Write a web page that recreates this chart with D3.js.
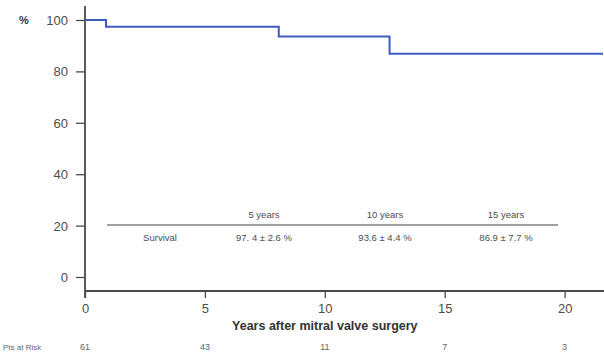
<!DOCTYPE html>
<html>
<head>
<meta charset="utf-8">
<script src="https://cdn.jsdelivr.net/npm/d3@7"></script>
<style>
  body { margin: 0; background: #fff; }
  text { font-family: "Liberation Sans", Arial, sans-serif; }
</style>
</head>
<body>
<div id="chart"></div>
<script>
// Kaplan-Meier survival steps
let stepYears = [0, 0.875, 8.08, 12.7, 21.6];
let stepSurvival = [100, 97.4, 93.6, 86.9, 86.9];

// Table
let tableHeaders = ['5 years', '10 years', '15 years'];
let tableValues = ['97. 4 \u00b1 2.6 %', '93.6 \u00b1 4.4 %', '86.9 \u00b1 7.7 %'];

// Patients at risk
let riskYears = [0, 5, 10, 15, 20];
let riskCounts = [61, 43, 11, 7, 3];

let xTicks = [0, 5, 10, 15, 20];
let yTicks = [0, 20, 40, 60, 80, 100];

let svgWidth = 604;
let svgHeight = 354;

let svg = d3.select('#chart').append('svg')
    .attr('width', svgWidth)
    .attr('height', svgHeight);

let xScale = d3.scaleLinear().domain([0, 21.6]).range([85, 603]);
let yScale = d3.scaleLinear().domain([0, 100]).range([277, 20]);
let axisY = 291;
let axisColor = '#4a4a4a';
let textColor = '#4d4d4d';

// Y axis
let yAxis = svg.append('g')
    .attr('transform', `translate(${xScale(0)}, 0)`)
    .call(d3.axisLeft(yScale).tickValues(yTicks).tickSize(9).tickPadding(8));
yAxis.select('.domain').remove();
yAxis.selectAll('.tick line').attr('stroke', axisColor).attr('stroke-width', 1.3);
yAxis.selectAll('.tick text')
    .attr('fill', textColor).style('font-size', '13px').attr('dy', '0.35em');
svg.append('line')
    .attr('x1', xScale(0)).attr('x2', xScale(0))
    .attr('y1', 6).attr('y2', 298)
    .attr('stroke', axisColor).attr('stroke-width', 1.8);

svg.append('text')
    .attr('x', 24).attr('y', yScale(100))
    .attr('dy', '0.35em').attr('text-anchor', 'middle')
    .attr('fill', '#333').style('font-size', '11px').style('font-weight', 'bold')
    .text('%');

// X axis
let xAxis = svg.append('g')
    .attr('transform', `translate(0, ${axisY})`)
    .call(d3.axisBottom(xScale).tickValues(xTicks).tickSize(7).tickPadding(6));
xAxis.select('.domain').remove();
xAxis.selectAll('.tick line').attr('stroke', axisColor).attr('stroke-width', 1.3);
xAxis.selectAll('.tick text').attr('fill', textColor).style('font-size', '13px');
svg.append('line')
    .attr('x1', xScale(0)).attr('x2', svgWidth)
    .attr('y1', axisY).attr('y2', axisY)
    .attr('stroke', axisColor).attr('stroke-width', 1.8);

svg.append('text')
    .attr('x', xScale(10)).attr('y', 330)
    .attr('text-anchor', 'middle')
    .attr('fill', '#333').style('font-size', '12.5px').style('font-weight', 'bold')
    .text('Years after mitral valve surgery');

// Survival curve
let stepData = stepYears.map((t, i) => ({ t: t, s: stepSurvival[i] }));
let line = d3.line()
    .x(d => xScale(d.t))
    .y(d => yScale(d.s))
    .curve(d3.curveStepAfter);
svg.append('path')
    .datum(stepData)
    .attr('d', line)
    .attr('fill', 'none')
    .attr('stroke', '#3f5bbf')
    .attr('stroke-width', 2);

// Survival table
let colX = [264, 385, 506];
svg.append('line')
    .attr('x1', 107).attr('x2', 558)
    .attr('y1', 225).attr('y2', 225)
    .attr('stroke', '#444').attr('stroke-width', 1.2);
svg.selectAll('text.head')
    .data(tableHeaders).enter()
    .append('text')
    .attr('class', 'head')
    .attr('x', (d, i) => colX[i]).attr('y', 218)
    .attr('text-anchor', 'middle')
    .attr('fill', textColor).style('font-size', '9.5px')
    .text(d => d);
svg.selectAll('text.val')
    .data(tableValues).enter()
    .append('text')
    .attr('class', 'val')
    .attr('x', (d, i) => colX[i]).attr('y', 241)
    .attr('text-anchor', 'middle')
    .attr('fill', textColor).style('font-size', '9.5px')
    .text(d => d);
svg.append('text')
    .attr('x', 160).attr('y', 241)
    .attr('text-anchor', 'middle')
    .attr('fill', textColor).style('font-size', '9.5px')
    .text('Survival');

// Patients at risk
svg.append('text')
    .attr('x', 3).attr('y', 350)
    .attr('fill', '#666').style('font-size', '8px')
    .text('Pts at Risk');
svg.selectAll('text.risk')
    .data(riskCounts).enter()
    .append('text')
    .attr('class', 'risk')
    .attr('x', (d, i) => xScale(riskYears[i])).attr('y', 350)
    .attr('text-anchor', 'middle')
    .attr('fill', '#666').style('font-size', '9px')
    .text(d => d);
</script>
</body>
</html>
